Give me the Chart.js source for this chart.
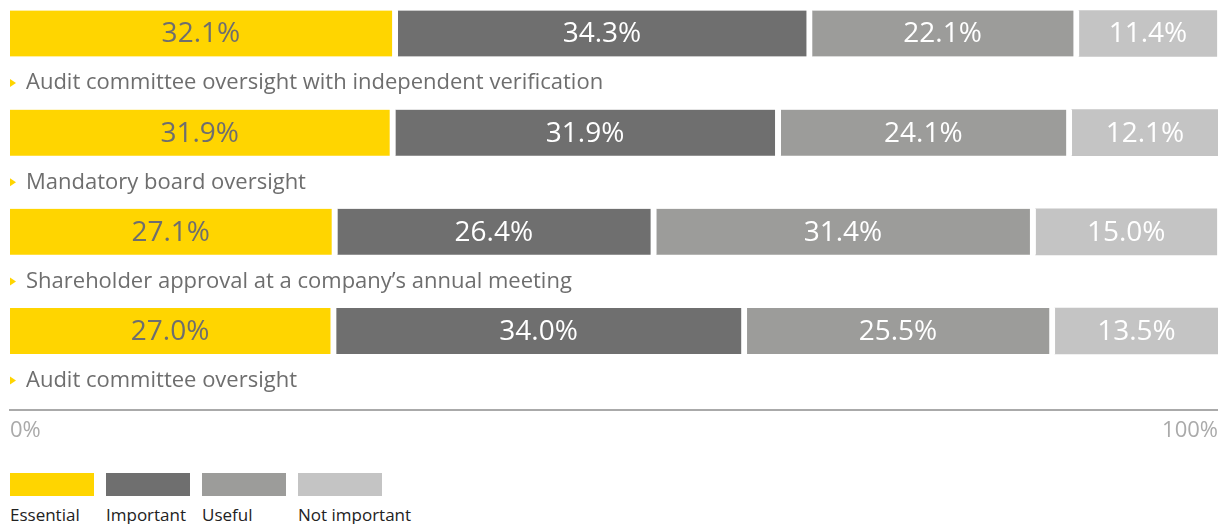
<!DOCTYPE html>
<html>
<head>
<meta charset="utf-8">
<script src="https://cdn.jsdelivr.net/npm/chart.js@4.4.1/dist/chart.umd.min.js"></script>
<style>
    html, body { margin: 0; padding: 0; background: #fff; }
    #wrap { position: relative; width: 1218px; height: 524px; overflow: hidden; }
    #chartBox { position: absolute; left: 0; top: 0; width: 1226px; height: 452px; }
    #legend { position: absolute; left: 10px; top: 473px; display: flex; font-family: 'Open Sans', sans-serif; font-size: 17px; color: #222; }
    #legend .item { margin-right: 12px; }
    #legend .box { width: 84px; height: 23px; }
    #legend .txt { margin-top: 9px; white-space: nowrap; line-height: 20px; }
</style>
</head>
<body>
<div id="wrap">
    <div id="chartBox"><canvas id="oversightChart"></canvas></div>
    <div id="legend"></div>
</div>
<script>
// Importance of oversight mechanisms (share of respondents, %)
const rowLabels = [
    'Audit committee oversight with independent verification',
    'Mandatory board oversight',
    'Shareholder approval at a company\u2019s annual meeting',
    'Audit committee oversight'
];
const seriesNames = ['Essential', 'Important', 'Useful', 'Not important'];
const seriesColors = ['#FFD500', '#6F6F6F', '#9C9C9A', '#C4C4C4'];
const labelColors = ['#6E6E6E', '#FFFFFF', '#FFFFFF', '#FFFFFF'];
const essential = [32.1, 31.9, 27.1, 27.0];
const important = [34.3, 31.9, 26.4, 34.0];
const useful = [22.1, 24.1, 31.4, 25.5];
const notImportant = [11.4, 12.1, 15.0, 13.5];
const axisTicks = [0, 100];

const seriesValues = [essential, important, useful, notImportant];
const gap = 6;

const datasets = seriesValues.map((vals, s) => ({
    label: seriesNames[s],
    data: vals.map((v, i) => ({ x: v, y: i })),
    backgroundColor: seriesColors[s],
    borderColor: '#fff',
    borderWidth: { top: 0, bottom: 0, left: 0, right: s < 3 ? gap : 0 },
    borderSkipped: false,
    barThickness: 46
}));

// values in the middle of every segment
const valueLabels = {
    id: 'valueLabels',
    afterDatasetsDraw(chart) {
        const ctx = chart.ctx;
        ctx.save();
        ctx.font = '28px "Open Sans"';
        ctx.textAlign = 'center';
        ctx.textBaseline = 'middle';
        chart.data.datasets.forEach((ds, s) => {
            const meta = chart.getDatasetMeta(s);
            meta.data.forEach((bar, i) => {
                const right = s < 3 ? bar.x - gap : bar.x;
                ctx.fillStyle = labelColors[s];
                ctx.fillText(seriesValues[s][i].toFixed(1) + '%', (bar.base + right) / 2, bar.y + 1);
            });
        });
        ctx.restore();
    }
};

// row captions under each bar with the small yellow marker
const rowCaptions = {
    id: 'rowCaptions',
    afterDraw(chart) {
        const ctx = chart.ctx;
        const yScale = chart.scales.y;
        const left = chart.chartArea.left;
        ctx.save();
        ctx.font = '22px "Open Sans"';
        ctx.textBaseline = 'middle';
        rowLabels.forEach((lab, i) => {
            const y = yScale.getPixelForValue(i + 0.5);
            ctx.fillStyle = '#FFD500';
            ctx.beginPath();
            ctx.moveTo(left, y - 4);
            ctx.lineTo(left + 6, y);
            ctx.lineTo(left, y + 4);
            ctx.closePath();
            ctx.fill();
            ctx.fillStyle = '#6E6E6E';
            ctx.fillText(lab, left + 16, y);
        });
        ctx.restore();
    }
};

const ctx = document.getElementById('oversightChart').getContext('2d');
new Chart(ctx, {
    type: 'bar',
    data: { datasets: datasets },
    plugins: [valueLabels, rowCaptions],
    options: {
        indexAxis: 'y',
        responsive: true,
        maintainAspectRatio: false,
        animation: false,
        layout: { padding: { left: 10, right: 0, top: 0, bottom: 0 } },
        scales: {
            x: {
                type: 'linear',
                stacked: true,
                min: 0,
                max: 100,
                grid: { display: false, drawTicks: false },
                border: { display: true, color: '#AAAAAA', width: 2 },
                afterBuildTicks(scale) {
                    scale.ticks = axisTicks.map(v => ({ value: v }));
                },
                ticks: {
                    color: '#AAAAAA',
                    font: { family: 'Open Sans', size: 22 },
                    padding: 8,
                    align: 'inner',
                    maxRotation: 0,
                    callback: v => v + '%'
                }
            },
            y: {
                type: 'linear',
                stacked: true,
                reverse: true,
                offset: false,
                min: -0.338,
                max: 3.793,
                display: false
            }
        },
        plugins: {
            legend: { display: false },
            tooltip: { enabled: false }
        }
    }
});

// legend: colour box with the name underneath
const legendEl = document.getElementById('legend');
seriesNames.forEach((name, s) => {
    const item = document.createElement('div');
    item.className = 'item';
    item.innerHTML = '<div class="box" style="background:' + seriesColors[s] + '"></div><div class="txt">' + name + '</div>';
    legendEl.appendChild(item);
});
</script>
</body>
</html>
